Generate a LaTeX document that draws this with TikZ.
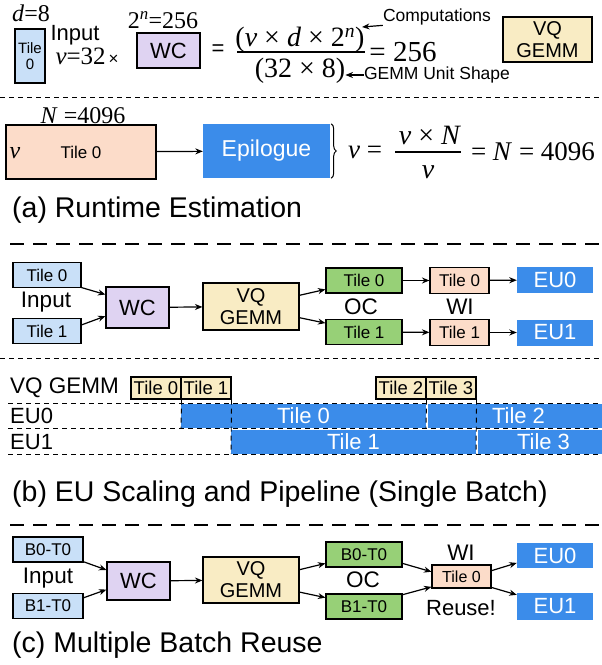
\documentclass[tikz,border=0pt]{standalone}
\usepackage{fontspec}
\setmainfont{Liberation Sans}
\newfontfamily\tms{Liberation Serif}
\usetikzlibrary{arrows.meta,decorations.pathreplacing}
\newcommand\fsz[1]{\fontsize{#1}{#1}\selectfont}
\definecolor{inblue}{HTML}{C9E0F8}
\definecolor{wcpurple}{HTML}{DFD3F2}
\definecolor{vqyellow}{HTML}{F9ECC4}
\definecolor{ocgreen}{HTML}{97D077}
\definecolor{wipeach}{HTML}{FCDCC9}
\definecolor{eublue}{HTML}{3B8CEA}

\begin{document}
\begin{tikzpicture}[x=1pt, y=-1pt,
  box/.style={rectangle, draw, line width=1.1pt, inner sep=0pt, align=center},
  inbox/.style={box, fill=inblue, minimum width=69, minimum height=25, font=\fsz{17}},
  wcbox/.style={box, fill=wcpurple, minimum width=63, font=\fsz{22}},
  vqbox/.style={box, fill=vqyellow, minimum width=96, font=\fontsize{20}{22}\selectfont},
  ocbox/.style={box, fill=ocgreen, minimum width=76, minimum height=25, font=\fsz{17}},
  wibox/.style={box, fill=wipeach, minimum width=59, minimum height=26, font=\fsz{17}},
  eubox/.style={rectangle, fill=eublue, text=white, inner sep=0pt, minimum width=76, minimum height=26, font=\fsz{22}},
  tbox/.style={box, fill=vqyellow, minimum width=50, minimum height=22, font=\fsz{18.5}},
  bar/.style={rectangle, fill=eublue, text=white, inner sep=0pt, minimum height=24, font=\fsz{22}},
  lbl/.style={inner sep=0pt},
  caption/.style={inner sep=0pt, anchor=west, font=\fsz{28.5}},
  arr/.style={-{Stealth[length=7.5pt,width=6pt]}, line width=1.2pt},
  thindash/.style={line width=0.9pt, dash pattern=on 5pt off 4pt},
  thickdash/.style={line width=2.4pt, dash pattern=on 14pt off 9pt}
]
\useasboundingbox (0,0) rectangle (602,665);

% (a) runtime estimation
\node[lbl, font=\tms\fsz{24}] (dval) at (31,13) {\textit{d}=8};
\node[box, fill=inblue, minimum width=30, minimum height=54, font=\fontsize{15}{16}\selectfont] (tileA) at (30,56) {Tile\\0};
\node[lbl, font=\fsz{22}] (inA) at (75,35) {Input};
\node[lbl] (vA) at (87,56) {{\tms\fsz{25}\textit{v}=32} {\fsz{17}×}};
\node[lbl, font=\tms\fsz{24}] (nA) at (163,20) {2\textsuperscript{\textit{n}}=256};
\node[wcbox, minimum height=35] (wcA) at (168.5,50.5) {WC};
\node[lbl, font=\fsz{22}] (eqA) at (218,50) {=};
\node[lbl, font=\tms\fsz{28}] (numA) at (300,40) {(\textit{v} × \textit{d} × 2\textsuperscript{\textit{n}})};
\node[lbl, font=\tms\fsz{28}] (denA) at (300,71) {(32 × 8)};
\draw[line width=1.2pt] (237,52) -- (365,52);
\node[lbl, font=\tms\fsz{29}] (resA) at (403,52) {= 256};
\node[lbl, font=\fsz{17.5}] (comp) at (437,17) {Computations};
\node[lbl, font=\fsz{17.5}] (shape) at (437,75) {GEMM Unit Shape};
\coordinate (numtip) at (362,27);
\draw[arr] (comp.south west) -- (numtip);
\draw[arr] (shape.west) -- (shape.west -| denA.east);
\node[vqbox, minimum width=89, minimum height=45] (vqA) at (547.5,39.5) {VQ\\GEMM};

\draw[thindash] (0,97) -- (602,97);

\node[box, fill=wipeach, minimum width=150, minimum height=54, font=\fsz{17}] (tileB) at (81,152) {Tile 0};
\node[lbl, font=\tms\itshape\fsz{24}] (vB) at (15,153) {v};
\node[lbl, font=\tms\fsz{24}] (NB) at (83,116) {\textit{N} =4096};
\node[eubox, minimum width=127, minimum height=54, font=\fsz{23}] (epi) at (266.5,151) {Epilogue};
\draw[arr] (tileB) -- (epi);
\draw[decorate, decoration={brace, amplitude=5pt}, line width=1pt]
  ([xshift=1pt]epi.north east) -- ([xshift=1pt]epi.south east);
\node[lbl, font=\tms\fsz{27}] (vC) at (365,152) {\textit{v} =};
\node[lbl, font=\tms\fsz{28}] (numB) at (430,135) {\textit{v} × \textit{N}};
\draw[line width=1.2pt] (395,152) -- (461,152);
\node[lbl, font=\tms\fsz{28}] (denB) at (428,172) {\textit{v}};
\node[lbl, font=\tms\fsz{27}] (resB) at (533,152) {= \textit{N} = 4096};
\node[caption] (capA) at (12,210) {(a) Runtime Estimation};

\draw[thickdash] (10,244) -- (602,244);

% (b) single batch
\node[inbox, minimum width=68] (in0) at (47,275) {Tile 0};
\node[inbox, minimum width=68] (in1) at (47,331) {Tile 1};
\node[lbl, font=\fsz{22.5}] (inL) at (46,302) {Input};
\node[wcbox, minimum height=41] (wc) at (137.5,307.5) {WC};
\node[vqbox, minimum height=47] (vq) at (251,306.5) {VQ\\GEMM};
\node[ocbox] (oc0) at (364,280.5) {Tile 0};
\node[ocbox] (oc1) at (364,332) {Tile 1};
\node[lbl, font=\fsz{22.5}] (ocL) at (361,307) {OC};
\node[wibox] (wi0) at (459.5,280.5) {Tile 0};
\node[wibox] (wi1) at (459.5,332.5) {Tile 1};
\node[lbl, font=\fsz{22.5}] (wiL) at (460,307) {WI};
\node[eubox] (eu0) at (555,280) {EU0};
\node[eubox] (eu1) at (555,332.5) {EU1};
\draw[arr] (in0.-20) -- (wc.158);
\draw[arr] (in1.10) -- (wc.195);
\draw[arr] (wc) -- (vq);
\draw[arr] (vq.13) -- (oc0.193);
\draw[arr] (vq.-13) -- (oc1.167);
\draw[arr] (oc0) -- (wi0);
\draw[arr] (oc1) -- (wi1);
\draw[arr] (wi0) -- (eu0);
\draw[arr] (wi1) -- (eu1);

\draw[thindash] (0,358) -- (602,358);

\node[lbl, anchor=west, font=\fsz{22.5}] (vqL) at (10,388) {VQ GEMM};
\node[lbl, anchor=west, font=\fsz{22}] (eu0L) at (10,416) {EU0};
\node[lbl, anchor=west, font=\fsz{22}] (eu1L) at (10,442) {EU1};
\node[bar, minimum width=245] (b0) at (303.5,416) {Tile 0};
\node[bar, minimum width=181] (b2) at (518.5,416) {Tile 2};
\node[bar, minimum width=245] (b1) at (353.5,442) {Tile 1};
\node[bar, minimum width=131] (b3) at (543.5,442) {Tile 3};
\node[tbox] (t0) at (156,388) {Tile 0};
\node[tbox] (t1) at (206,388) {Tile 1};
\node[tbox] (t2) at (401,388) {Tile 2};
\node[tbox] (t3) at (451,388) {Tile 3};
\foreach \y in {403,428.5,454}
  \draw[thindash] (8,\y) -- (602,\y);
\draw[thindash] (t0.south east) -- (181,428);
\draw[thindash] (t1.south east) -- (231,454);
\draw[thindash] (t2.south east) -- (426,428);
\draw[thindash] (t3.south east) -- (476,454);
\node[caption] (capB) at (12,494) {(b) EU Scaling and Pipeline (Single Batch)};

\draw[thickdash] (10,525) -- (602,525);

% (c) multiple batch
\node[inbox, minimum width=70] (c0) at (48,549.5) {B0-T0};
\node[inbox, minimum width=70] (c1) at (48,606) {B1-T0};
\node[lbl, font=\fsz{22.5}] (inL2) at (48,578) {Input};
\node[wcbox, minimum height=38] (wc2) at (138.5,581) {WC};
\node[vqbox, minimum height=46] (vq2) at (251,580) {VQ\\GEMM};
\node[ocbox] (g0) at (364,554.5) {B0-T0};
\node[ocbox] (g1) at (364,606.5) {B1-T0};
\node[lbl, font=\fsz{22.5}] (ocL2) at (363,580) {OC};
\node[wibox, minimum height=23, font=\fsz{16}] (wi) at (461.5,576.5) {Tile 0};
\node[lbl, font=\fsz{22.5}] (wiL2) at (461,553) {WI};
\node[lbl, font=\fsz{22}] (reuse) at (461,608) {Reuse!};
\node[eubox, minimum height=25] (e0) at (555,555.5) {EU0};
\node[eubox, minimum height=27] (e1) at (555,606.5) {EU1};
\draw[arr] (c0.-19) -- (wc2.161);
\draw[arr] (c1.13) -- (wc2.195);
\draw[arr] (wc2) -- (vq2);
\draw[arr] (vq2.12) -- (g0.193);
\draw[arr] (vq2.-14) -- (g1.167);
\draw[arr] (g0.-13) -- (wi.171);
\draw[arr] (g1.17) -- (wi.199);
\draw[arr] (wi.11) -- (e0.191);
\draw[arr] (wi.-20) -- (e1.163);
\node[caption] (capC) at (12,645) {(c) Multiple Batch Reuse};
\end{tikzpicture}
\end{document}
